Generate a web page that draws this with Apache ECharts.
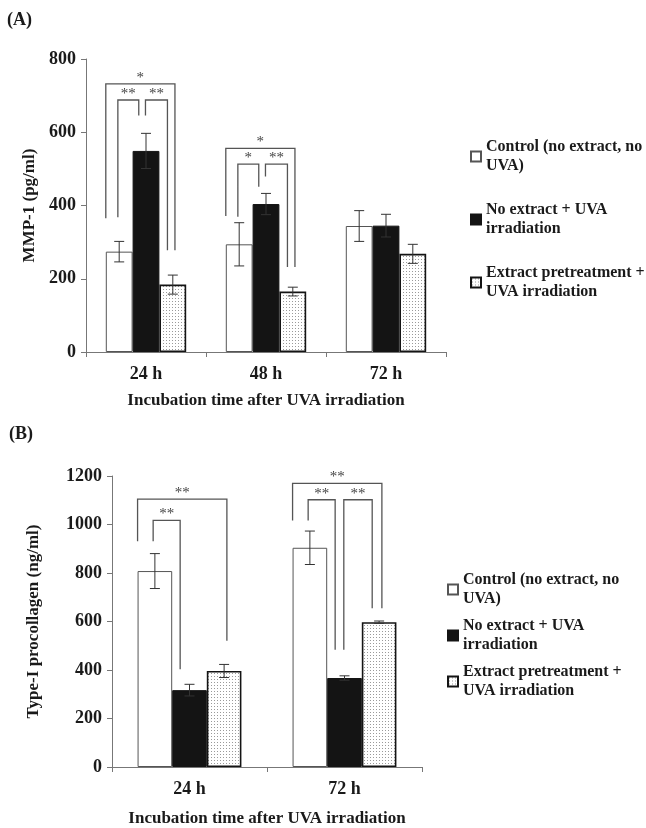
<!DOCTYPE html>
<html>
<head>
<meta charset="utf-8">
<script src="https://cdn.jsdelivr.net/npm/echarts@6/dist/echarts.min.js"></script>
<style>
  html, body { margin: 0; padding: 0; background: #fff; }
  #chart { width: 646px; height: 828px; }
</style>
</head>
<body>
<div id="chart"></div>
<script>
// ---- data ----
const seriesNames = ["Control (no extract, no UVA)", "No extract + UVA irradiation", "Extract pretreatment + UVA irradiation"];
const legendLabels = ["Control (no extract, no\nUVA)", "No extract + UVA\nirradiation", "Extract pretreatment +\nUVA irradiation"];

// (A) MMP-1, pg/ml
const catsA = ["24 h", "48 h", "72 h"];
const controlA = [274, 294, 344];
const uvaA = [549, 404, 345];
const extractA = [184, 165, 268];
const controlErrA = [28, 59, 42];
const uvaErrA = [48, 29, 31];
const extractErrA = [26, 12, 26];

// (B) Type-I procollagen, ng/ml
const catsB = ["24 h", "72 h"];
const controlB = [808, 904];
const uvaB = [317, 367];
const extractB = [396, 597];
const controlErrB = [72, 69];
const uvaErrB = [24, 9];
const extractErrB = [27, 5];

// significance brackets: [category, kind (0 outer, 1 first pair, 2 second pair), top, left foot, right foot]
const bracketsA = [
  [0, 0, 732, 365, 278],
  [0, 1, 688, 368, 646],
  [0, 2, 688, 646, 278],
  [1, 0, 556, 371, 232],
  [1, 1, 513, 369, 451],
  [1, 2, 513, 479, 232]
];
const bracketLabelsA = ["*", "**", "**", "*", "*", "**"];
const bracketsB = [
  [0, 0, 1105, 931, 521],
  [0, 1, 1017, 931, 403],
  [1, 0, 1170, 1016, 655],
  [1, 1, 1102, 1016, 483],
  [1, 2, 1102, 483, 655]
];
const bracketLabelsB = ["**", "**", "**", "**", "**"];

// ---- styling ----
const FONT = "Liberation Serif";
const INK = "#1a1a1a";
const AXIS = "#777";
const GAP = 0.33;
const BRACKET_OFFSETS = [[-1.5, 1.08], [-1.05, -0.27], [-0.02, 0.8]];

const dots = document.createElement("canvas");
dots.width = 3;
dots.height = 3;
const dctx = dots.getContext("2d");
dctx.fillStyle = "#fff";
dctx.fillRect(0, 0, 3, 3);
dctx.fillStyle = "#9a9a9a";
dctx.fillRect(1, 1, 1, 1);

const barStyles = [
  { color: "#fff", borderColor: "#555", borderWidth: 1 },
  { color: "#141414", borderColor: "#141414", borderWidth: 1 },
  { color: { image: dots, repeat: "repeat" }, borderColor: "#141414", borderWidth: 1.6 }
];

function errData(errs, vals) {
  const out = [];
  errs.forEach((e, b) => e.forEach((v, c) => out.push([c, b, vals[b][c], v])));
  return out;
}

function renderErr(params, api) {
  const cat = api.value(0);
  const b = api.value(1);
  const v = api.value(2);
  const e = api.value(3);
  const band = api.size([1, 0])[0];
  const bw = band * (1 - GAP) / 3;
  const x = api.coord([cat, v])[0] + (b - 1) * bw;
  const yt = api.coord([cat, v + e])[1];
  const yb = api.coord([cat, v - e])[1];
  const st = { stroke: "#333", lineWidth: 1 };
  return {
    type: "group",
    children: [
      { type: "line", shape: { x1: x, y1: yt, x2: x, y2: yb }, style: st },
      { type: "line", shape: { x1: x - 5, y1: yt, x2: x + 5, y2: yt }, style: st },
      { type: "line", shape: { x1: x - 5, y1: yb, x2: x + 5, y2: yb }, style: st }
    ]
  };
}

function bracketRenderer(labels) {
  return function (params, api) {
    const cat = api.value(0);
    const off = BRACKET_OFFSETS[api.value(1)];
    const band = api.size([1, 0])[0];
    const bw = band * (1 - GAP) / 3;
    const cx = api.coord([cat, 0])[0];
    const x1 = cx + off[0] * bw;
    const x2 = cx + off[1] * bw;
    const yt = api.coord([cat, api.value(2)])[1];
    const yl = api.coord([cat, api.value(3)])[1];
    const yr = api.coord([cat, api.value(4)])[1];
    return {
      type: "group",
      children: [
        {
          type: "polyline",
          shape: { points: [[x1, yl], [x1, yt], [x2, yt], [x2, yr]] },
          style: { stroke: "#555", lineWidth: 1.3, fill: null }
        },
        {
          type: "text",
          x: (x1 + x2) / 2,
          y: yt - 6,
          style: {
            text: labels[params.dataIndex],
            fill: "#444",
            font: "15px " + FONT,
            align: "center",
            verticalAlign: "middle"
          }
        }
      ]
    };
  };
}

function bars(idx, vals) {
  return vals.map((v, b) => ({
    name: seriesNames[b],
    type: "bar",
    xAxisIndex: idx,
    yAxisIndex: idx,
    data: v,
    barGap: 0,
    barCategoryGap: GAP * 100 + "%",
    itemStyle: barStyles[b],
    silent: true
  }));
}

function xAxis(idx, cats, gap) {
  return {
    type: "category",
    gridIndex: idx,
    data: cats,
    boundaryGap: true,
    axisLine: { lineStyle: { color: AXIS, width: 1 } },
    axisTick: { show: true, length: 5, lineStyle: { color: AXIS } },
    axisLabel: { margin: 13, color: INK, fontFamily: FONT, fontWeight: "bold", fontSize: 18 },
    name: "Incubation time after UVA irradiation",
    nameLocation: "middle",
    nameGap: gap,
    nameTextStyle: { color: INK, fontFamily: FONT, fontWeight: "bold", fontSize: 17 }
  };
}

function yAxis(idx, max, name, gap) {
  return {
    type: "value",
    gridIndex: idx,
    min: 0,
    max: max,
    interval: 200,
    splitLine: { show: false },
    axisLine: { show: true, lineStyle: { color: AXIS, width: 1 } },
    axisTick: { show: true, length: 5, lineStyle: { color: AXIS } },
    axisLabel: {
      margin: 10,
      color: INK,
      fontFamily: FONT,
      fontWeight: "bold",
      fontSize: 18,
      formatter: (v) => String(v)
    },
    name: name,
    nameLocation: "middle",
    nameGap: gap,
    nameTextStyle: { color: INK, fontFamily: FONT, fontWeight: "bold", fontSize: 17 }
  };
}

function legend(left, top, gap) {
  return {
    left: left,
    top: top,
    orient: "vertical",
    padding: 0,
    itemGap: gap,
    itemWidth: 10,
    itemHeight: 10,
    icon: "rect",
    selectedMode: false,
    data: seriesNames,
    formatter: (n) => legendLabels[seriesNames.indexOf(n)],
    textStyle: {
      color: INK,
      fontFamily: FONT,
      fontWeight: "bold",
      fontSize: 16,
      lineHeight: 19,
      padding: [19, 0, 0, 0]
    }
  };
}

const chart = echarts.init(document.getElementById("chart"), null, { renderer: "canvas" });

chart.setOption({
  animation: false,
  backgroundColor: "#fff",
  grid: [
    { left: 86, top: 59, width: 360, height: 293 },
    { left: 112, top: 476, width: 310, height: 293 }
  ],
  xAxis: [xAxis(0, catsA, 40), xAxis(1, catsB, 43)],
  yAxis: [yAxis(0, 800, "MMP-1 (pg/ml)", 44), yAxis(1, 1200, "Type-I procollagen (ng/ml)", 70)],
  legend: [legend(470, 128, 6), legend(447, 561, -11)],
  graphic: [
    { type: "text", left: 7, top: 11, style: { text: "(A)", fill: INK, font: "bold 18px " + FONT } },
    { type: "text", left: 9, top: 425, style: { text: "(B)", fill: INK, font: "bold 18px " + FONT } }
  ],
  series: [
    ...bars(0, [controlA, uvaA, extractA]),
    ...bars(1, [controlB, uvaB, extractB]),
    {
      type: "custom",
      xAxisIndex: 0,
      yAxisIndex: 0,
      renderItem: renderErr,
      encode: { x: 0, y: 2 },
      data: errData([controlErrA, uvaErrA, extractErrA], [controlA, uvaA, extractA]),
      z: 5,
      silent: true
    },
    {
      type: "custom",
      xAxisIndex: 1,
      yAxisIndex: 1,
      renderItem: renderErr,
      encode: { x: 0, y: 2 },
      data: errData([controlErrB, uvaErrB, extractErrB], [controlB, uvaB, extractB]),
      z: 5,
      silent: true
    },
    {
      type: "custom",
      xAxisIndex: 0,
      yAxisIndex: 0,
      renderItem: bracketRenderer(bracketLabelsA),
      encode: { x: 0, y: 2 },
      data: bracketsA,
      z: 6,
      silent: true
    },
    {
      type: "custom",
      xAxisIndex: 1,
      yAxisIndex: 1,
      renderItem: bracketRenderer(bracketLabelsB),
      encode: { x: 0, y: 2 },
      data: bracketsB,
      z: 6,
      silent: true
    }
  ]
});
</script>
</body>
</html>
